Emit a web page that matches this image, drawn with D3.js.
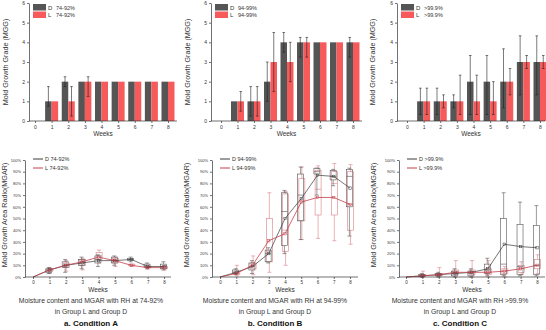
<!DOCTYPE html>
<html>
<head>
<meta charset="utf-8">
<script src="https://cdn.jsdelivr.net/npm/d3@7"></script>
<style>
  body { margin: 0; background: #fff; }
  svg { font-family: "Liberation Sans", Arial, sans-serif; }
</style>
</head>
<body>
<div id="chart"></div>
<script>
var weeks = [0, 1, 2, 3, 4, 5, 6, 7, 8];
var rhLabels = ["74-92%", "94-99%", ">99.9%"];
var captions = ["Moisture content and MGAR with RH at 74-92%",
                "Moisture content and MGAR with RH at  94-99%",
                "Moisture content and MGAR with RH >99.9%"];
var conditions = ["a. Condition A", "b. Condition B", "c. Condition C"];
var mggTicks = [0, 1, 2, 3, 4, 5, 6];
var mgarTicks = [0, 10, 20, 30, 40, 50, 60, 70, 80, 90, 100];

// mold growth grade (bars) per week, error bars as [low, high]
var mggA_D = [0, 1, 2, 2, 2, 2, 2, 2, 2];
var mggA_L = [0, 1, 1, 2, 2, 2, 2, 2, 2];
var errA_D = [null, [0.75, 1.75], [1.75, 2.25], null, null, null, null, null, null];
var errA_L = [null, null, [0.25, 1.75], [1.25, 2.25], null, null, null, null, null];

var mggB_D = [0, 1, 1, 2, 4, 4, 4, 4, 4];
var mggB_L = [0, 1, 1, 3, 3, 4, 4, 4, 4];
var errB_D = [null, null, [0.25, 1.75], [1, 3], [3.5, 4.5], [3.25, 4.25], null, null, [3.25, 4.25]];
var errB_L = [null, [0.5, 1.5], [0.25, 1.75], [1.5, 4.5], [2, 4], [3.25, 4.25], null, null, null];

var mggC_D = [0, 1, 1, 1, 2, 2, 2, 3, 3];
var mggC_L = [0, 1, 1, 1, 1, 1, 2, 3, 3];
var errC_D = [null, [0.33, 1.67], [0.33, 1.67], [0.67, 1.33], [0.33, 3.33], [0.33, 3.33], [0.67, 3.67], [1.33, 4.33], [1.33, 4.33]];
var errC_L = [null, [0.33, 1.67], [0.67, 1.33], [0.33, 2.33], [0.33, 2.33], [0.33, 2], [1.33, 2.67], [2.67, 3.33], [2.67, 3.33]];

// mold growth area ratio (%), mean line per week
var meanA_D = [0, 6, 10, 12, 14, 14, 15, 9, 9];
var meanA_L = [0, 6, 10, 13, 17, 14, 10, 8, 8];
var meanB_D = [0, 4, 9, 20, 50, 67, 87, 86, 76];
var meanB_L = [0, 3, 10, 31, 37, 64, 68, 68, 62];
var meanC_D = [0, 1, 2, 3, 4, 7, 28, 26, 25];
var meanC_L = [0, 1, 2, 4, 4, 4, 5, 7, 10];

// boxes: [min, q1, median, q3, max]
var boxA_D = [null, [3, 4, 6, 7, 8], [4, 8, 10, 13, 15], [7, 10, 12, 15, 17], [9, 12, 15, 18, 19],
              [10, 12, 14, 17, 18], [13, 14, 15, 16, 17], [7, 8, 9, 11, 12], [6, 7, 9, 11, 13]];
var boxA_L = [null, [3, 5, 6, 7, 8], [5, 8, 10, 12, 14], [6, 10, 13, 15, 16], [12, 15, 18, 21, 23],
              [9, 12, 14, 16, 17], [9, 9.5, 10, 11, 11], [7, 8, 8, 9, 10], [6, 7, 8, 9, 10]];
var boxB_D = [null, [2, 3, 4, 6, 7], [3, 6, 9, 12, 14], [12, 13, 20, 23, 25], [20, 27, 56, 72, 74],
              [32, 48, 70, 88, 94], [70, 88, 90, 93, 93], [78, 83, 86, 91, 92], [35, 60, 86, 92, 93]];
var boxB_L = [null, [1, 2, 3, 5, 10], [2, 7, 10, 12, 18], [4, 13, 22, 50, 72], [10, 22, 40, 71, 73],
              [32, 48, 65, 84, 94], [33, 53, 75, 91, 95], [31, 53, 80, 90, 97], [28, 40, 62, 90, 96]];
var boxC_D = [null, [0, 0.5, 1, 2, 3], [0, 1, 2, 3, 4], [0, 1, 3, 5, 7], [0, 1, 3, 5, 7],
              [1, 3, 6, 11, 16], [1, 2, 11, 50, 72], [1, 2, 9, 45, 64], [1, 2, 10, 44, 61]];
var boxC_L = [null, [0, 1, 1, 2, 5], [0, 1, 2, 3, 8], [0, 2, 4, 6, 14], [0, 2, 4, 6, 14],
              [0, 2, 4, 7, 14], [0, 3, 5, 7, 9], [2, 4, 7, 10, 13], [3, 7, 10, 15, 19]];

var barSets = [
  {D: mggA_D, L: mggA_L, eD: errA_D, eL: errA_L},
  {D: mggB_D, L: mggB_L, eD: errB_D, eL: errB_L},
  {D: mggC_D, L: mggC_L, eD: errC_D, eL: errC_L}
];
var boxSets = [
  {mD: meanA_D, mL: meanA_L, bD: boxA_D, bL: boxA_L},
  {mD: meanB_D, mL: meanB_L, bD: boxB_D, bL: boxB_L},
  {mD: meanC_D, mL: meanC_L, bD: boxC_D, bL: boxC_L}
];

// layout of each panel
var topLay = [
  {ax: 29, x0: 35, x8: 168, xEnd: 177, title: 5},
  {ax: 211, x0: 221, x8: 353, xEnd: 362, title: 187},
  {ax: 397, x0: 407, x8: 540, xEnd: 545, title: 372}
];
var botLay = [
  {ax: 25, x0: 33, x8: 164, xEnd: 171, title: 4, cx: 91},
  {ax: 212, x0: 220, x8: 350, xEnd: 358, title: 186, cx: 275},
  {ax: 399, x0: 406, x8: 537, xEnd: 545, title: 373, cx: 460}
];

var colD = "#555555", colL = "#f75a5a";
var lineD = "#3a3a3a", lineL = "#c4404c";

var svg = d3.select("#chart").append("svg")
    .attr("width", 546).attr("height", 330);

function axisStyle(g, fs) {
  g.selectAll("path, line").attr("stroke", "#333").attr("stroke-width", 0.7);
  g.selectAll("text").attr("font-size", fs).attr("fill", "#333").attr("font-family", null);
}

// ---- top: bar charts ----
topLay.forEach(function(lay, i) {
  var set = barSets[i];
  var g = svg.append("g");
  var x = d3.scaleLinear().domain([0, 8]).range([lay.x0, lay.x8]);
  var y = d3.scaleLinear().domain([0, 6]).range([121, 3]);
  var bw = 6.5;

  g.selectAll("rect.d").data(weeks).enter().append("rect")
    .attr("x", function(d) { return x(d) - bw; })
    .attr("y", function(d) { return y(set.D[d]); })
    .attr("width", bw)
    .attr("height", function(d) { return y(0) - y(set.D[d]); })
    .attr("fill", colD);
  g.selectAll("rect.l").data(weeks).enter().append("rect")
    .attr("x", function(d) { return x(d); })
    .attr("y", function(d) { return y(set.L[d]); })
    .attr("width", bw)
    .attr("height", function(d) { return y(0) - y(set.L[d]); })
    .attr("fill", colL);

  [[set.eD, -bw / 2], [set.eL, bw / 2]].forEach(function(p) {
    weeks.forEach(function(w) {
      var e = p[0][w];
      if (!e) return;
      var cx = x(w) + p[1];
      g.append("line").attr("x1", cx).attr("x2", cx).attr("y1", y(e[0])).attr("y2", y(e[1]))
        .attr("stroke", "#222").attr("stroke-width", 0.6);
      e.forEach(function(v) {
        g.append("line").attr("x1", cx - 1.3).attr("x2", cx + 1.3).attr("y1", y(v)).attr("y2", y(v))
          .attr("stroke", "#222").attr("stroke-width", 0.6);
      });
    });
  });

  var xa = g.append("g").attr("transform", "translate(0,121)")
    .call(d3.axisBottom(x).tickValues(weeks).tickSize(2).tickPadding(2).tickSizeOuter(0));
  xa.select(".domain").attr("d", "M" + lay.ax + ",0H" + lay.xEnd);
  axisStyle(xa, 5);
  var ya = g.append("g").attr("transform", "translate(" + lay.ax + ",0)")
    .call(d3.axisLeft(y).tickValues(mggTicks).tickFormat(d3.format("d"))
      .tickSize(2).tickPadding(2).tickSizeOuter(0));
  axisStyle(ya, 5);

  g.append("text").attr("x", (lay.ax + lay.xEnd) / 2).attr("y", 136)
    .attr("text-anchor", "middle").attr("font-size", 6.5).attr("fill", "#333").text("Weeks");
  g.append("text").attr("transform", "translate(" + lay.title + ",62) rotate(-90)")
    .attr("text-anchor", "middle").attr("dominant-baseline", "central")
    .attr("font-size", 7.2).attr("fill", "#333").text("Mold Growth Grade (MGG)");

  // legend
  var lx = lay.ax + 4;
  [["D", colD, 4], ["L", colL, 11.5]].forEach(function(r) {
    g.append("rect").attr("x", lx).attr("y", r[2]).attr("width", 13).attr("height", 6.5).attr("fill", r[1]);
    g.append("text").attr("x", lx + 15).attr("y", r[2] + 5.5).attr("font-size", 6).attr("fill", "#333").text(r[0]);
    g.append("text").attr("x", lx + 23).attr("y", r[2] + 5.5).attr("font-size", 5.5).attr("fill", "#333").text(rhLabels[i]);
  });
});

// ---- bottom: box plots with mean lines ----
botLay.forEach(function(lay, i) {
  var set = boxSets[i];
  var g = svg.append("g");
  var x = d3.scaleLinear().domain([0, 8]).range([lay.x0, lay.x8]);
  var y = d3.scaleLinear().domain([0, 100]).range([277, 160]);
  var bw = 6;

  function boxes(data, col, dx) {
    weeks.forEach(function(w) {
      var b = data[w];
      if (!b) return;
      var cx = x(w) + dx;
      var bg = g.append("g").attr("stroke", col).attr("stroke-width", 0.6).attr("fill", "none");
      bg.append("line").attr("x1", cx).attr("x2", cx).attr("y1", y(b[0])).attr("y2", y(b[1]));
      bg.append("line").attr("x1", cx).attr("x2", cx).attr("y1", y(b[3])).attr("y2", y(b[4]));
      [b[0], b[4]].forEach(function(v) {
        bg.append("line").attr("x1", cx - 2).attr("x2", cx + 2).attr("y1", y(v)).attr("y2", y(v));
      });
      bg.append("rect").attr("x", cx - bw / 2).attr("y", y(b[3]))
        .attr("width", bw).attr("height", Math.max(0.5, y(b[1]) - y(b[3])));
      bg.append("line").attr("x1", cx - bw / 2).attr("x2", cx + bw / 2).attr("y1", y(b[2])).attr("y2", y(b[2]));
    });
  }
  boxes(set.bL, "#d98088", 0.6);
  boxes(set.bD, "#555", -0.6);

  var line = d3.line().x(function(d, k) { return x(weeks[k]); }).y(function(d) { return y(d); });
  g.append("path").datum(set.mD).attr("d", line).attr("fill", "none").attr("stroke", lineD).attr("stroke-width", 0.7);
  g.append("path").datum(set.mL).attr("d", line).attr("fill", "none").attr("stroke", lineL).attr("stroke-width", 0.8);
  [[set.mD, lineD], [set.mL, lineL]].forEach(function(p) {
    g.selectAll(null).data(weeks.slice(1)).enter().append("rect")
      .attr("x", function(w) { return x(w) - 1.2; })
      .attr("y", function(w) { return y(p[0][w]) - 1.2; })
      .attr("width", 2.4).attr("height", 2.4)
      .attr("fill", "none").attr("stroke", p[1]).attr("stroke-width", 0.5);
  });

  var xa = g.append("g").attr("transform", "translate(0,277)")
    .call(d3.axisBottom(x).tickValues(weeks).tickSize(2).tickPadding(2).tickSizeOuter(0));
  xa.select(".domain").attr("d", "M" + lay.ax + ",0H" + lay.xEnd);
  axisStyle(xa, 4.5);
  var ya = g.append("g").attr("transform", "translate(" + lay.ax + ",0)")
    .call(d3.axisLeft(y).tickValues(mgarTicks).tickSize(2).tickPadding(2).tickSizeOuter(0)
      .tickFormat(function(d) { return d + "%"; }));
  axisStyle(ya, 4);

  g.append("text").attr("x", (lay.ax + lay.xEnd) / 2).attr("y", 292)
    .attr("text-anchor", "middle").attr("font-size", 6.5).attr("fill", "#333").text("Weeks");
  g.append("text").attr("transform", "translate(" + lay.title + ",215) rotate(-90)")
    .attr("text-anchor", "middle").attr("dominant-baseline", "central")
    .attr("font-size", 7.2).attr("fill", "#333").text("Mold Growth Area Radio(MGAR)");

  // legend
  var lx = lay.ax + 8;
  [["D", lineD, 159], ["L", lineL, 168]].forEach(function(r) {
    g.append("line").attr("x1", lx).attr("x2", lx + 10).attr("y1", r[2]).attr("y2", r[2])
      .attr("stroke", r[1]).attr("stroke-width", 1);
    g.append("text").attr("x", lx + 12).attr("y", r[2] + 2).attr("font-size", 5.5).attr("fill", "#333")
      .text(r[0] + " " + rhLabels[i]);
  });

  g.append("text").attr("x", lay.cx).attr("y", 303).attr("text-anchor", "middle")
    .attr("font-size", 6.8).attr("fill", "#333").text(captions[i]);
  g.append("text").attr("x", lay.cx).attr("y", 314).attr("text-anchor", "middle")
    .attr("font-size", 6.8).attr("fill", "#333").text("in Group L and Group D");
  g.append("text").attr("x", lay.cx).attr("y", 326).attr("text-anchor", "middle")
    .attr("font-size", 8).attr("font-weight", "bold").attr("fill", "#111").text(conditions[i]);
});
</script>
</body>
</html>
